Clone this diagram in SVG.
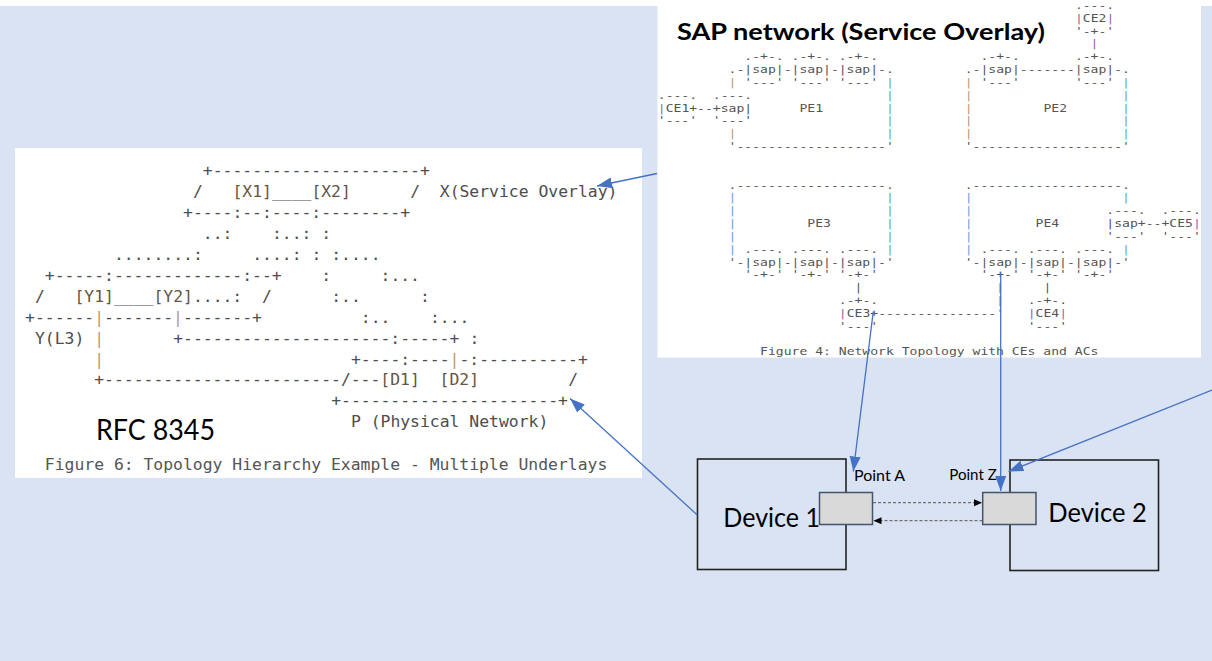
<svg xmlns="http://www.w3.org/2000/svg" width="1212" height="661" viewBox="0 0 1212 661">
<defs>
<style>
.lm{font-family:"DejaVu Sans Mono",monospace;font-size:16.4px;fill:#4d4d4d;white-space:pre}
.sm{font-family:"DejaVu Sans Mono",monospace;font-size:11px;fill:#555;white-space:pre}
.nd{fill:#665444}
.tn{fill:#b99a78}
.bl{fill:#6aa6d6}
.pu{fill:#8f6a96}
.cal{font-family:Lato,"Liberation Sans",sans-serif;fill:#000}
.dev{fill:none;stroke:#222;stroke-width:1.6}
.pt{fill:#d9d9d9;stroke:#44546a;stroke-width:1.5}
.blue{stroke:#4472c4;stroke-width:1.3;fill:none;marker-end:url(#ab)}
.dash{stroke:#555;stroke-width:1;stroke-dasharray:3 2;fill:none;marker-end:url(#ak)}
</style>
<marker id="ab" markerUnits="userSpaceOnUse" markerWidth="16" markerHeight="12" refX="15" refY="5.5" orient="auto"><path d="M0,0 L15,5.5 L0,11 z" fill="#4472c4"/></marker>
<marker id="ak" markerUnits="userSpaceOnUse" markerWidth="9" markerHeight="8" refX="8" refY="3.5" orient="auto"><path d="M0,0 L8,3.5 L0,7 z" fill="#000"/></marker>
</defs>
<rect x="0" y="0" width="1212" height="661" fill="#fff"/>
<rect x="0" y="6" width="1212" height="655" fill="#dae3f3"/>

<g id="rfc8345-figure">
<rect x="15" y="148" width="627" height="330" fill="#fff"/>
<text class="lm" y="176.1"><tspan x="202.8">+---------------------+</tspan></text>
<text class="lm" y="197"><tspan x="192.93">/</tspan><tspan x="232.42"><tspan class="nd">[X1]</tspan>____<tspan class="nd">[X2]</tspan></tspan><tspan x="410.16">/</tspan><tspan x="439.78">X(Service Overlay)</tspan></text>
<text class="lm" y="217.9"><tspan x="183.05">+----:--:----:--------+</tspan></text>
<text class="lm" y="238.8"><tspan x="202.8">..:</tspan><tspan x="271.92">:..:</tspan><tspan x="321.29">:</tspan></text>
<text class="lm" y="259.8"><tspan x="113.94">........:</tspan><tspan x="252.17">....:</tspan><tspan x="311.42">:</tspan><tspan x="331.16">:....</tspan></text>
<text class="lm" y="280.7"><tspan x="44.82">+-----:-------------:--+</tspan><tspan x="321.29">:</tspan><tspan x="380.53">:...</tspan></text>
<text class="lm" y="301.6"><tspan x="34.94">/</tspan><tspan x="74.44"><tspan class="nd">[Y1]</tspan>____<tspan class="nd">[Y2]</tspan>....:</tspan><tspan x="262.05">/</tspan><tspan x="331.16">:..</tspan><tspan x="420.03">:</tspan></text>
<text class="lm" y="322.6"><tspan x="25.07">+------<tspan class="tn">|</tspan>-------<tspan class="tn">|</tspan>-------+</tspan><tspan x="360.79">:..</tspan><tspan x="429.9">:...</tspan></text>
<text class="lm" y="343.5"><tspan x="34.94">Y(L3)</tspan><tspan x="94.19" class="tn">|</tspan><tspan x="173.18">+---------------------:-----+</tspan><tspan x="469.4">:</tspan></text>
<text class="lm" y="364.5"><tspan x="94.19" class="tn">|</tspan><tspan x="350.91">+----:----<tspan class="tn">|</tspan>-:----------+</tspan></text>
<text class="lm" y="385.4"><tspan x="94.19">+------------------------/---<tspan class="nd">[D1]</tspan>  <tspan class="nd">[D2]</tspan></tspan><tspan x="568.14">/</tspan></text>
<text class="lm" y="406.3"><tspan x="331.16">+----------------------+</tspan></text>
<text class="lm" y="427.3"><tspan x="350.91">P (Physical Network)</tspan></text>
<text class="lm" y="470" style="fill:#555"><tspan x="44.82">Figure 6: Topology Hierarchy Example - Multiple Underlays</tspan></text>
</g>
<g id="rfc-label">
<text class="cal" x="96" y="440" font-size="28" textLength="119" lengthAdjust="spacingAndGlyphs">RFC 8345</text>
</g>

<g id="sap-network">
<rect x="657.5" y="0" width="543.5" height="357.5" fill="#fff"/>
<g transform="translate(657.77 0) scale(1.1883 1)">
<text class="sm" y="9"><tspan x="351.02">.---.</tspan></text>
<text class="sm" y="21.83"><tspan x="351.02"><tspan class="pu">|</tspan>CE2<tspan class="pu">|</tspan></tspan></text>
<text class="sm" y="34.66"><tspan x="351.02">'-+-'</tspan></text>
<text class="sm" y="47.49"><tspan x="364.27" class="pu">|</tspan></text>
<text class="sm" y="60.32"><tspan x="72.85">.-+-. .-+-. .-+-.</tspan><tspan x="271.55">.-+-.</tspan><tspan x="351.02">.-+-.</tspan></text>
<text class="sm" y="73.15"><tspan x="59.61">.-|sap|-|sap|-|sap|-.</tspan><tspan x="258.3">.-|sap|-------|sap|-.</tspan></text>
<text class="sm" y="85.98"><tspan x="59.61" class="tn">|</tspan><tspan x="72.85">'---' '---' '---'</tspan><tspan x="192.07" class="bl">|</tspan><tspan x="258.3" class="tn">|</tspan><tspan x="271.55">'---'</tspan><tspan x="351.02">'---'</tspan><tspan x="390.76" class="bl">|</tspan></text>
<text class="sm" y="98.81"><tspan x="0">.---.</tspan><tspan x="46.36">.---.</tspan><tspan x="192.07" class="bl">|</tspan><tspan x="258.3" class="tn">|</tspan><tspan x="390.76" class="bl">|</tspan></text>
<text class="sm" y="111.64"><tspan x="0"><tspan class="pu">|</tspan>CE1+--+sap|</tspan><tspan x="119.22">PE1</tspan><tspan x="192.07" class="bl">|</tspan><tspan x="258.3" class="tn">|</tspan><tspan x="324.53">PE2</tspan><tspan x="390.76" class="bl">|</tspan></text>
<text class="sm" y="124.47"><tspan x="0">'---'</tspan><tspan x="46.36">'---'</tspan><tspan x="192.07" class="bl">|</tspan><tspan x="258.3" class="tn">|</tspan><tspan x="390.76" class="bl">|</tspan></text>
<text class="sm" y="137.3"><tspan x="59.61" class="tn">|</tspan><tspan x="192.07" class="bl">|</tspan><tspan x="258.3" class="tn">|</tspan><tspan x="390.76" class="bl">|</tspan></text>
<text class="sm" y="150.13"><tspan x="59.61">'-------------------'</tspan><tspan x="258.3">'-------------------'</tspan></text>
<text class="sm" y="188.62"><tspan x="59.61">.-------------------.</tspan><tspan x="258.3">.-------------------.</tspan></text>
<text class="sm" y="201.45"><tspan x="59.61" class="bl">|</tspan><tspan x="192.07" class="bl">|</tspan><tspan x="258.3" class="bl">|</tspan><tspan x="390.76" class="bl">|</tspan></text>
<text class="sm" y="214.28"><tspan x="59.61" class="bl">|</tspan><tspan x="192.07" class="bl">|</tspan><tspan x="258.3" class="bl">|</tspan><tspan x="377.52">.---.</tspan><tspan x="423.88">.---.</tspan></text>
<text class="sm" y="227.11"><tspan x="59.61" class="bl">|</tspan><tspan x="125.84">PE3</tspan><tspan x="192.07" class="bl">|</tspan><tspan x="258.3" class="bl">|</tspan><tspan x="317.91">PE4</tspan><tspan x="377.52">|sap+--+CE5<tspan class="pu">|</tspan></tspan></text>
<text class="sm" y="239.94"><tspan x="59.61" class="bl">|</tspan><tspan x="192.07" class="bl">|</tspan><tspan x="258.3" class="bl">|</tspan><tspan x="377.52">'---'</tspan><tspan x="423.88">'---'</tspan></text>
<text class="sm" y="252.77"><tspan x="59.61" class="bl">|</tspan><tspan x="72.85">.---. .---. .---.</tspan><tspan x="192.07" class="bl">|</tspan><tspan x="258.3" class="bl">|</tspan><tspan x="271.55">.---. .---. .---.</tspan><tspan x="390.76" class="bl">|</tspan></text>
<text class="sm" y="265.6"><tspan x="59.61">'-|sap|-|sap|-|sap|-'</tspan><tspan x="258.3">'-|sap|-|sap|-|sap|-'</tspan></text>
<text class="sm" y="278.43"><tspan x="72.85">'-+-' '-+-' '-+-'</tspan><tspan x="271.55">'-+-' '-+-' '-+-'</tspan></text>
<text class="sm" y="291.26"><tspan x="165.58">|</tspan><tspan x="284.79">|</tspan><tspan x="324.53">|</tspan></text>
<text class="sm" y="304.09"><tspan x="152.33">.-+-.</tspan><tspan x="284.79">|</tspan><tspan x="311.29">.-+-.</tspan></text>
<text class="sm" y="316.92"><tspan x="152.33"><tspan class="pu">|</tspan>CE3+---------------'</tspan><tspan x="311.29"><tspan class="pu">|</tspan>CE4<tspan class="pu">|</tspan></tspan></text>
<text class="sm" y="329.75"><tspan x="152.33">'---'</tspan><tspan x="311.29">'---'</tspan></text>
<text class="sm" y="355.41"><tspan x="86.1">Figure 4: Network Topology with CEs and ACs</tspan></text>
</g>
</g>
<g id="sap-title">
<text class="cal" x="677" y="40" font-size="22" font-weight="bold" textLength="368" lengthAdjust="spacingAndGlyphs">SAP network (Service Overlay)</text>
</g>

<g id="device1">
<rect class="dev" x="697.5" y="459" width="148.5" height="110.5"/>
</g>
<g id="device2">
<rect class="dev" x="1010" y="460" width="148.5" height="110.5"/>
<text class="cal" x="1048.3" y="522.3" font-size="26.5" textLength="98.4" lengthAdjust="spacingAndGlyphs">Device 2</text>
</g>
<g id="point-a">
<rect class="pt" x="819.5" y="492.5" width="53" height="32"/>
<text class="cal" x="854" y="480.7" font-size="15" textLength="51" lengthAdjust="spacingAndGlyphs">Point A</text>
</g>
<g id="point-z">
<rect class="pt" x="982.7" y="492.5" width="53.3" height="32"/>
<text class="cal" x="949.3" y="480" font-size="15" textLength="47.4" lengthAdjust="spacingAndGlyphs">Point Z</text>
</g>
<g id="device1-label">
<text class="cal" x="723.3" y="527.3" font-size="26.5" textLength="96.7" lengthAdjust="spacingAndGlyphs">Device 1</text>
</g>

<g id="connectors">
<line class="blue" x1="657" y1="173.5" x2="597" y2="186"/>
<line class="blue" x1="697.3" y1="515" x2="570" y2="398.5"/>
<line class="blue" x1="873.3" y1="311.5" x2="853.3" y2="471.5"/>
<line class="blue" x1="1000.7" y1="272" x2="1000.7" y2="491"/>
<line class="blue" x1="1212" y1="390" x2="1008.5" y2="471.5"/>
<line class="dash" x1="873" y1="502.7" x2="982" y2="502.7"/>
<line class="dash" x1="982.5" y1="520.7" x2="873.5" y2="520.7"/>
</g>
</svg>
